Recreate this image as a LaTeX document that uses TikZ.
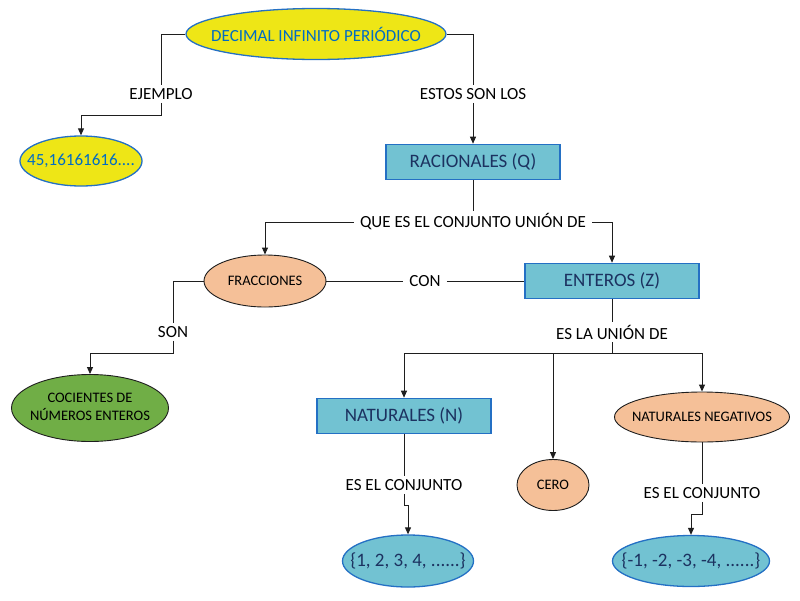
\documentclass[tikz,border=0pt]{standalone}
\usepackage{fontspec}
\setmainfont{Carlito}
\usetikzlibrary{shapes.geometric,arrows.meta}

\definecolor{amarillo}{RGB}{238,230,22}
\definecolor{azulborde}{RGB}{36,112,196}
\definecolor{azultexto}{RGB}{0,108,196}
\definecolor{celeste}{RGB}{114,194,210}
\definecolor{marino}{RGB}{28,50,96}
\definecolor{salmon}{RGB}{245,192,152}
\definecolor{verde}{RGB}{112,174,70}
\definecolor{trazo}{RGB}{30,30,30}

% texto sin ancho, para que la elipse tome el tamano minimo
\newcommand{\rotulo}[1]{\makebox[0pt]{#1}}

\begin{document}
\begin{tikzpicture}[x=1pt,y=-1pt,
	amarilla/.style={ellipse,draw=azulborde,fill=amarillo,line width=1.3pt,inner sep=0pt,text=azultexto,font=\fontsize{17}{19}\selectfont},
	caja/.style={rectangle,draw=azulborde,fill=celeste,line width=1.6pt,minimum width=174pt,minimum height=35pt,text=marino,font=\fontsize{19}{21}\selectfont},
	conjunto/.style={ellipse,draw=azulborde,fill=celeste,line width=1.3pt,inner sep=0pt,text=marino,font=\fontsize{19}{21}\selectfont},
	concepto/.style={ellipse,draw=trazo,fill=#1,line width=0.9pt,inner sep=0pt,font=\fontsize{14.5}{17}\selectfont},
	etiqueta/.style={inner xsep=6pt,inner ysep=3pt,font=\fontsize{17}{19}\selectfont},
	linea/.style={draw=trazo,line width=0.9pt},
	flecha/.style={linea,-{Triangle[length=7pt,width=6pt]}}]

\useasboundingbox (0,0) rectangle (800,600);

\node[amarilla,minimum width=260pt,minimum height=51pt] (decimal) at (316,34) {\rotulo{DECIMAL INFINITO PERIÓDICO}};
\node[amarilla,minimum width=122pt,minimum height=50pt] (ejemplo) at (81,161) {\rotulo{45,16161616....}};
\node[caja] (racionales) at (473,162) {RACIONALES (Q)};
\node[concepto=salmon,minimum width=122pt,minimum height=52pt] (fracciones) at (265,281) {\rotulo{FRACCIONES}};
\node[caja] (enteros) at (612,281) {ENTEROS (Z)};
\node[concepto=verde,minimum width=157pt,minimum height=67pt] (cocientes) at (90,408) {\rotulo{\begin{tabular}{@{}c@{}}COCIENTES DE\\NÚMEROS ENTEROS\end{tabular}}};
\node[caja] (naturales) at (404,416) {NATURALES (N)};
\node[concepto=salmon,minimum width=175pt,minimum height=50pt] (negativos) at (702,417) {\rotulo{NATURALES NEGATIVOS}};
\node[concepto=salmon,minimum width=72pt,minimum height=51pt] (cero) at (553,485) {\rotulo{CERO}};
\node[conjunto,minimum width=131pt,minimum height=52pt] (positivos) at (408,561) {\rotulo{\{1, 2, 3, 4, ......\}}};
\node[conjunto,minimum width=157pt,minimum height=51pt] (opuestos) at (691,561) {\rotulo{\{-1, -2, -3, -4, ......\}}};

\node[etiqueta] (lejemplo) at (161,94) {EJEMPLO};
\node[etiqueta] (lestos) at (473,94) {ESTOS SON LOS};
\node[etiqueta] (lunion) at (473,222) {QUE ES EL CONJUNTO UNIÓN DE};
\node[etiqueta] (lcon) at (425,281) {CON};
\node[etiqueta] (lson) at (173,332) {SON};
\node[etiqueta] (lesla) at (612,332) {ES LA UNIÓN DE};
\node[etiqueta] (lconjpos) at (404,485) {ES EL CONJUNTO};
\node[etiqueta] (lconjneg) at (702,493) {ES EL CONJUNTO};

\coordinate (codoej) at (161,115);
\coordinate (codoson) at (173,353);
\coordinate (codoz) at (612,353);
\coordinate (codopos) at (404,505);
\coordinate (codoneg) at (702,514);

\draw[linea] (decimal.west) -| (lejemplo.north);
\draw[flecha] (lejemplo.south) -- (codoej) -| (ejemplo.north);
\draw[linea] (decimal.east) -| (lestos.north);
\draw[flecha] (lestos.south) -- (racionales.north);

\draw[linea] (racionales.south) -- (lunion.north);
\draw[flecha] (lunion.west) -| (fracciones.north);
\draw[flecha] (lunion.east) -| (enteros.north);

\draw[linea] (fracciones.east) -- (lcon.west);
\draw[linea] (lcon.east) -- (enteros.west);

\draw[linea] (fracciones.west) -| (lson.north);
\draw[flecha] (lson.south) -- (codoson) -| (cocientes.north);

\draw[linea] (enteros.south) -- (lesla.north);
\draw[linea] (lesla.south) -- (codoz);
\draw[flecha] (codoz) -| (naturales.north);
\draw[flecha] (codoz) -| (negativos.north);
\draw[flecha] (codoz -| cero.north) -- (cero.north);

\draw[linea] (naturales.south) -- (lconjpos.north);
\draw[flecha] (lconjpos.south) -- (codopos) -| (positivos.north);
\draw[linea] (negativos.south) -- (lconjneg.north);
\draw[flecha] (lconjneg.south) -- (codoneg) -| (opuestos.north);

\end{tikzpicture}
\end{document}
